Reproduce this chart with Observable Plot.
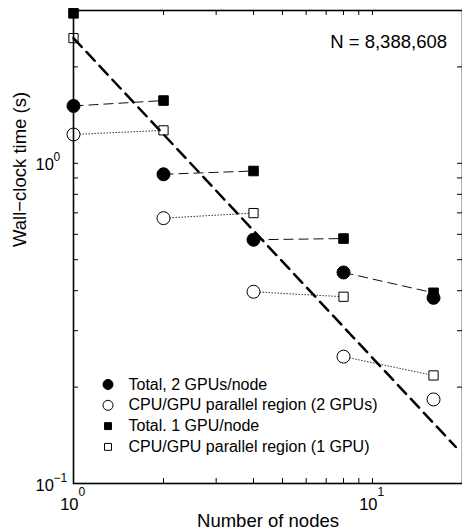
<!DOCTYPE html>
<html><head><meta charset="utf-8">
<script src="https://cdn.jsdelivr.net/npm/d3@7"></script>
<script src="https://cdn.jsdelivr.net/npm/@observablehq/plot@0.6"></script>
<style>
  html, body { margin: 0; padding: 0; background: #fff; }
  #chart svg { display: block; }
</style>
</head><body><div id="chart"></div>
<script>
// ---- data ----
const nodes  = [1, 2, 4, 8, 16];
const total2 = [1.51, 0.924, 0.577, 0.456, 0.38];   // Total, 2 GPUs/node
const par2   = [1.23, 0.674, 0.397, 0.249, 0.183];  // CPU/GPU parallel region (2 GPUs)
const total1 = [2.94, 1.57, 0.946, 0.582, 0.394];   // Total. 1 GPU/node
const par1   = [2.46, 1.267, 0.699, 0.383, 0.2175]; // CPU/GPU parallel region (1 GPU)
const idealX = [1, 19];
const idealY = [2.46, 0.13];
const legendNames = [
  "Total, 2 GPUs/node",
  "CPU/GPU parallel region (2 GPUs)",
  "Total. 1 GPU/node",
  "CPU/GPU parallel region (1 GPU)"
];
const xMajor = [1, 10];
const xMajorExp = ["0", "1"];
const xMinor = [2, 3, 4, 5, 6, 7, 8, 9];
const yMajor = [0.1, 1];
const yMajorExp = ["\u22121", "0"];
const yMinor = [0.2, 0.3, 0.4, 0.5, 0.6, 0.7, 0.8, 0.9, 2];
const annotation = "N = 8,388,608";
const xLabel = "Number of nodes";
const yLabel = "Wall\u2212clock time (s)";

// ---- layout ----
const W = 462, H = 531;
const mL = 73, mR = 0, mT = 10, mB = 48;
const innerW = W - mL - mR, innerH = H - mT - mB;
const FONT = "'Liberation Sans', Arial, Helvetica, sans-serif";
const tickLen = 5;

const rows = nodes.map((n, i) => ({n, total2: total2[i], par2: par2[i], total1: total1[i], par1: par1[i]}));
const dashedLinks = nodes.slice(0, -1).map((n, i) => ({x1: n, y1: total2[i], x2: nodes[i + 1], y2: total1[i + 1]}));
const dottedLinks = nodes.slice(0, -1).map((n, i) => ({x1: n, y1: par2[i], x2: nodes[i + 1], y2: par1[i + 1]}));
const ideal = idealX.map((x, i) => ({x, y: idealY[i]}));

const styles = [
  {symbol: "circle", fill: "black", stroke: "black", r: 6.5, lr: 5},
  {symbol: "circle", fill: "white", stroke: "black", r: 6.5, lr: 5},
  {symbol: "square", fill: "black", stroke: "black", r: 5.4, lr: 3.9},
  {symbol: "square", fill: "white", stroke: "black", r: 5.2, lr: 3.9}
];
const keys = ["total2", "par2", "total1", "par1"];

const allX = [...xMajor, ...xMinor];
const allY = [...yMajor, ...yMinor];

const legendMarks = legendNames.flatMap((name, i) => {
  const dy = -99 + i * 20.8;
  const s = styles[i];
  return [
    Plot.dot([name], {frameAnchor: "bottom-left", dx: 34.5, dy, symbol: s.symbol, r: s.lr, fill: s.fill, stroke: s.stroke, strokeWidth: 1}),
    Plot.text([name], {frameAnchor: "bottom-left", dx: 55, dy, text: d => d, textAnchor: "start", lineAnchor: "middle", fontSize: 16})
  ];
});

const chart = Plot.plot({
  width: W, height: H,
  marginLeft: mL, marginRight: mR, marginTop: mT, marginBottom: mB,
  style: {fontFamily: FONT, background: "white", overflow: "visible", color: "black"},
  x: {type: "log", domain: [1, 20], axis: null},
  y: {type: "log", domain: [0.1, 3], axis: null},
  marks: [
    // connecting lines
    Plot.link(dashedLinks, {x1: "x1", y1: "y1", x2: "x2", y2: "y2", stroke: "#111", strokeWidth: 1, strokeDasharray: "10,5"}),
    Plot.link(dottedLinks, {x1: "x1", y1: "y1", x2: "x2", y2: "y2", stroke: "#333", strokeWidth: 1, strokeDasharray: "1.5,1.5"}),
    // data markers
    ...keys.map((k, i) => Plot.dot(rows, {x: "n", y: k, symbol: styles[i].symbol, r: styles[i].r, fill: styles[i].fill, stroke: styles[i].stroke, strokeWidth: 1})),
    // ideal scaling line
    Plot.line(ideal, {x: "x", y: "y", stroke: "black", strokeWidth: 2.5, strokeDasharray: "12,7"}),
    // inward ticks on all four sides
    Plot.tickX(allX, {x: d => d, insetTop: innerH - tickLen, stroke: "black"}),
    Plot.tickX(allX, {x: d => d, insetBottom: innerH - tickLen, stroke: "black"}),
    Plot.tickY(allY, {y: d => d, insetRight: innerW - tickLen, stroke: "black"}),
    Plot.tickY(allY, {y: d => d, insetLeft: innerW - tickLen, stroke: "black"}),
    Plot.frame({stroke: "black", strokeWidth: 1.6}),
    // x tick labels
    Plot.text(xMajor, {x: d => d, frameAnchor: "bottom", text: () => "10", textAnchor: "end", dx: 5, dy: 26, lineAnchor: "bottom", fontSize: 16.5}),
    Plot.text(xMajor, {x: d => d, frameAnchor: "bottom", text: (d, i) => xMajorExp[i], textAnchor: "start", dx: 5, dy: 12, lineAnchor: "bottom", fontSize: 12}),
    // y tick labels
    Plot.text(yMajor, {y: d => d, frameAnchor: "left", text: () => "10", textAnchor: "start", dx: -38, dy: 7, lineAnchor: "bottom", fontSize: 16.5}),
    Plot.text(yMajor, {y: d => d, frameAnchor: "left", text: (d, i) => yMajorExp[i], textAnchor: "start", dx: -20, dy: -2, lineAnchor: "bottom", fontSize: 12}),
    // axis labels
    Plot.text([xLabel], {frameAnchor: "bottom", text: d => d, dy: 43, lineAnchor: "bottom", fontSize: 18.5}),
    Plot.text([yLabel], {frameAnchor: "left", text: d => d, rotate: -90, dx: -53, lineAnchor: "middle", fontSize: 18.5}),
    // annotation
    Plot.text([annotation], {frameAnchor: "top-right", text: d => d, textAnchor: "end", dx: -15.5, dy: 37.5, lineAnchor: "bottom", fontSize: 18.5}),
    // legend
    ...legendMarks
  ]
});
document.getElementById("chart").appendChild(chart);
</script>
</body></html>
